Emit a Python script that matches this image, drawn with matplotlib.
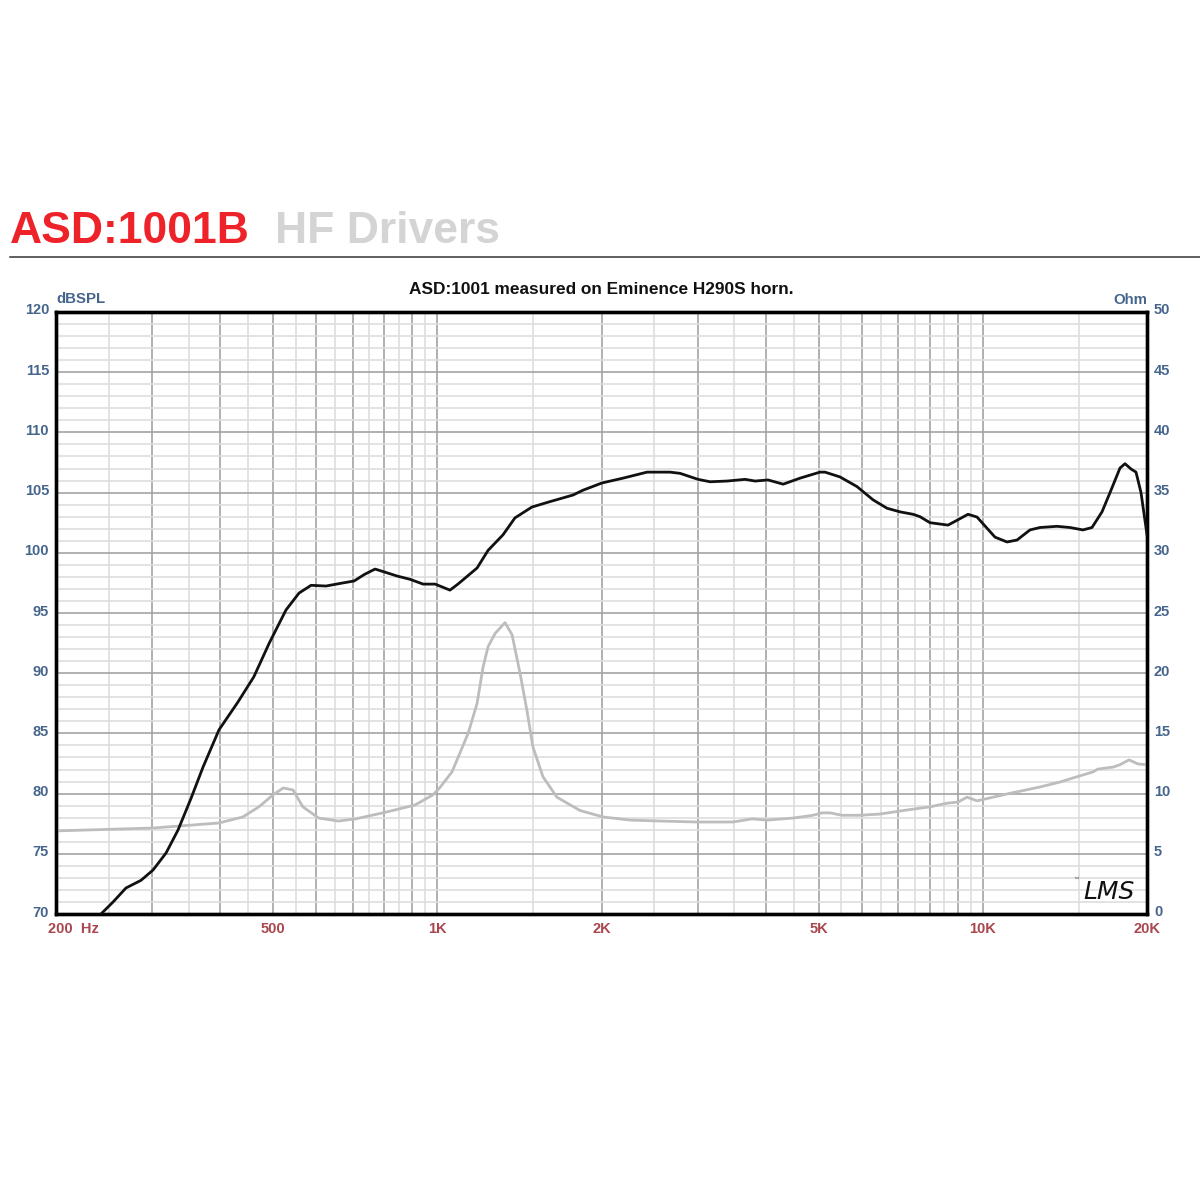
import matplotlib
matplotlib.use("Agg")
import matplotlib.pyplot as plt
import matplotlib.transforms as mtrans
from matplotlib.ticker import FixedLocator, FixedFormatter, NullFormatter

plt.rcParams['font.family'] = ['Liberation Sans', 'DejaVu Sans']

# ---------------- data ----------------
spl_freq = [241.8, 254.5, 268.7, 286.4, 301.2, 318.3, 334.8, 353.6, 372, 398, 431, 461, 492,
            528, 558, 587, 625, 672, 704, 735, 769, 801, 844, 891, 942, 991, 1055, 1091,
            1183, 1239, 1320, 1388, 1491, 1595, 1774, 1850, 2004, 2190, 2424, 2561, 2670,
            2786, 3006, 3163, 3398, 3667, 3824, 4040, 4306, 4624, 4782, 5030, 5137, 5474,
            5880, 6292, 6675, 7052, 7448, 7671, 8002, 8636, 8970, 9395, 9759, 10530, 11077,
            11554, 12205, 12730, 13680, 14450, 15265, 15856, 16540, 17110, 17846, 18228,
            18695, 19093, 19500, 20000]
spl_db = [70.0, 71.0, 72.16, 72.8, 73.65, 75.07, 76.98, 79.6, 82.2, 85.3, 87.6, 89.7, 92.5,
          95.25, 96.66, 97.3, 97.24, 97.5, 97.66, 98.2, 98.65, 98.4, 98.07, 97.8, 97.4, 97.4,
          96.9, 97.4, 98.74, 100.2, 101.5, 102.9, 103.8, 104.2, 104.8, 105.2, 105.8, 106.2,
          106.7, 106.7, 106.7, 106.6, 106.1, 105.9, 105.96, 106.1, 105.96, 106.05, 105.7,
          106.2, 106.4, 106.7, 106.7, 106.3, 105.5, 104.4, 103.7, 103.4, 103.2, 103.0, 102.5,
          102.3, 102.7, 103.2, 102.97, 101.3, 100.9, 101.06, 101.9, 102.1, 102.2, 102.1,
          101.9, 102.1, 103.4, 105.0, 107.04, 107.4, 106.96, 106.7, 105.0, 101.5]

imp_freq = [200, 301, 398, 440, 471, 500, 522, 544, 567, 606, 659, 708, 795, 910, 982, 1011,
            1064, 1139, 1183, 1213, 1239, 1276, 1331, 1371, 1418, 1460, 1497, 1562, 1657,
            1826, 2013, 2256, 2561, 2993, 3484, 3776, 4024, 4489, 4884, 5075, 5248, 5520,
            5955, 6479, 7262, 8002, 8601, 9008, 9355, 9759, 10443, 11077, 12730, 13853,
            14638, 15922, 16262, 17329, 17846, 18536, 19257, 20000]
imp_ohm = [6.9, 7.14, 7.56, 8.06, 8.9, 9.9, 10.47, 10.3, 8.9, 7.97, 7.72, 7.9, 8.4, 9.05,
           9.9, 10.5, 11.8, 15.0, 17.5, 20.5, 22.2, 23.3, 24.2, 23.2, 20.0, 16.9, 13.9, 11.4,
           9.7, 8.6, 8.06, 7.8, 7.72, 7.64, 7.64, 7.9, 7.8, 7.97, 8.2, 8.4, 8.4, 8.2, 8.2,
           8.3, 8.64, 8.9, 9.2, 9.3, 9.7, 9.4, 9.7, 9.97, 10.55, 10.96, 11.3, 11.8, 12.04,
           12.2, 12.4, 12.8, 12.46, 12.4]

x_major = [200, 300, 400, 500, 600, 700, 800, 900, 1000, 2000, 3000, 4000, 5000, 6000,
           7000, 8000, 9000, 10000, 20000]
x_labels = ['200  Hz', '', '', '500', '', '', '', '', '1K', '2K', '', '', '5K', '', '', '',
            '', '10K', '20K']
x_minor = [250, 350, 450, 550, 650, 750, 850, 950, 1500, 2500, 3500, 4500, 5500, 6500,
           7500, 8500, 9500, 15000]
spl_ticks = [70, 75, 80, 85, 90, 95, 100, 105, 110, 115, 120]
ohm_ticks = [0, 5, 10, 15, 20, 25, 30, 35, 40, 45, 50]

title_main = "ASD:1001B"
title_sub = "HF Drivers"
chart_title = "ASD:1001 measured on Eminence H290S horn."

# ---------------- styling ----------------
BLUE = '#46658C'
RED_LBL = '#A9464E'
MAJ = '#A3A3A3'
MIN = '#DEDEDE'
FS = 10.5

fig = plt.figure(figsize=(12, 12), dpi=100)
fig.patch.set_facecolor('white')

L, R, T, B = 56, 1147, 312, 914
ax = fig.add_axes([L / 1200, 1 - B / 1200, (R - L) / 1200, (B - T) / 1200])
ax.set_xscale('log')
ax.set_xlim(200, 20000)
ax.set_ylim(70, 120)

ax.xaxis.set_major_locator(FixedLocator(x_major))
ax.xaxis.set_major_formatter(FixedFormatter(x_labels))
ax.xaxis.set_minor_locator(FixedLocator(x_minor))
ax.xaxis.set_minor_formatter(NullFormatter())
ax.yaxis.set_major_locator(FixedLocator(spl_ticks))
ax.yaxis.set_minor_locator(FixedLocator(list(range(70, 121))))
ax.yaxis.set_minor_formatter(NullFormatter())

ax.grid(True, which='minor', color=MIN, linewidth=1.2, zorder=0)
ax.grid(True, which='major', color=MAJ, linewidth=1.2, zorder=0)
ax.set_axisbelow(True)

ax.tick_params(axis='both', which='both', length=0)
ax.tick_params(axis='y', pad=5, labelsize=FS, labelcolor=BLUE)
ax.tick_params(axis='x', pad=6, labelsize=FS, labelcolor=RED_LBL)
up = mtrans.ScaledTranslation(0, 3 / 100, fig.dpi_scale_trans)
for lbl in ax.get_yticklabels():
    lbl.set_fontweight('bold')
    lbl.set_transform(lbl.get_transform() + up)
for lbl in ax.get_xticklabels():
    lbl.set_fontweight('bold')
xl = ax.get_xticklabels()[0]
xl.set_horizontalalignment('left')
xl.set_transform(xl.get_transform() + mtrans.ScaledTranslation(-8 / 100, 0, fig.dpi_scale_trans))

for s in ax.spines.values():
    s.set_linewidth(2.4)
    s.set_color('black')
    s.set_zorder(10)

# impedance axis (right)
ax2 = ax.twinx()
ax2.set_ylim(0, 50)
ax2.yaxis.set_major_locator(FixedLocator(ohm_ticks))
ax2.tick_params(axis='y', length=0, pad=5, labelsize=FS, labelcolor=BLUE)
for lbl in ax2.get_yticklabels():
    lbl.set_fontweight('bold')
    lbl.set_transform(lbl.get_transform() + up)
for s in ax2.spines.values():
    s.set_linewidth(2.4)
    s.set_color('black')
ax2.plot(imp_freq, imp_ohm, color='#BDBDBD', linewidth=2.0, solid_joinstyle='round')

# SPL axis on top
ax3 = ax.twinx()
ax3.set_ylim(70, 120)
ax3.set_yticks([])
for s in ax3.spines.values():
    s.set_visible(False)
ax3.plot(spl_freq, spl_db, color='#111111', linewidth=2.0, solid_joinstyle='round')

# axis unit labels
fig.text(56 / 1200, 1 - 303 / 1200, 'dBSPL', color=BLUE, fontsize=10.8, fontweight='bold',
         ha='left', va='baseline')
fig.text(1147 / 1200, 1 - 304 / 1200, 'Ohm', color=BLUE, fontsize=10.8, fontweight='bold',
         ha='right', va='baseline')

# chart subtitle
fig.text(601 / 1200, 1 - 294 / 1200, chart_title, color='#111111', fontsize=12.4,
         fontweight='bold', ha='center', va='baseline')

# header
fig.text(10 / 1200, 1 - 243 / 1200, title_main, color='#EE2229', fontsize=32,
         fontweight='bold', ha='left', va='baseline')
fig.text(275 / 1200, 1 - 243 / 1200, title_sub, color='#D4D4D4', fontsize=32,
         fontweight='bold', ha='left', va='baseline')
fig.add_artist(plt.Line2D([10 / 1200, 1.0], [1 - 257 / 1200, 1 - 257 / 1200],
                          color='#333333', linewidth=1.1))

# LMS logo
fig.text(1109 / 1200, 1 - 892 / 1200, 'LMS', color='#111111', fontsize=18,
         family='DejaVu Sans', fontstyle='italic', fontweight='light',
         ha='center', va='center')
fig.text(1074 / 1200, 1 - 879 / 1200, '™', color='#555555', fontsize=4,
         ha='left', va='center')

fig.savefig('out.png', dpi=100, facecolor='white')
